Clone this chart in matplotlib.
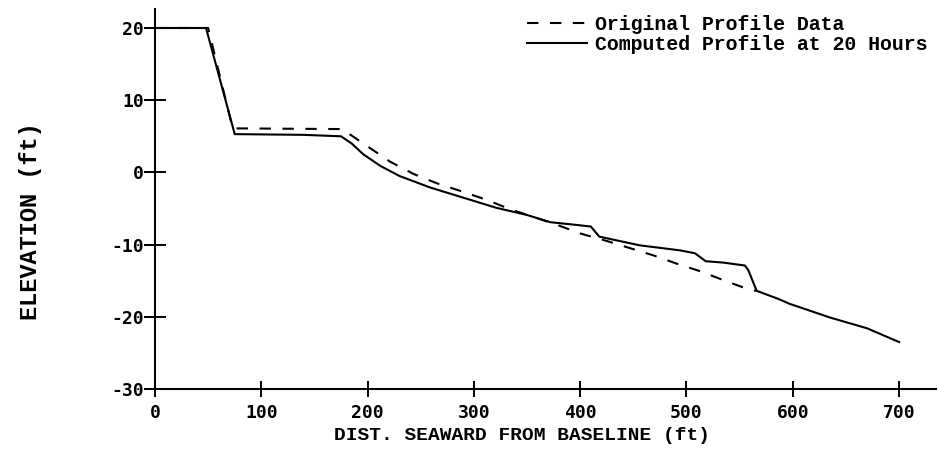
import matplotlib
matplotlib.use("Agg")
import matplotlib.pyplot as plt

# Data (ft)
computed_x = [0, 48, 75, 140, 175, 185, 196, 212, 230, 259, 290, 321, 350, 372,
              398, 410, 418, 456, 494, 508, 518, 535, 555, 558, 566, 586, 597,
              635, 670, 700]
computed_y = [20, 20, 5.3, 5.2, 5.0, 4.0, 2.5, 0.9, -0.5, -2.1, -3.5, -4.9, -5.9,
              -6.9, -7.3, -7.5, -8.9, -10.1, -10.8, -11.2, -12.3, -12.5, -12.9,
              -13.5, -16.4, -17.5, -18.2, -20.1, -21.6, -23.5]

original_x = [0, 50, 73, 176, 199, 221, 243, 265, 288, 312, 334, 375, 401, 425,
              447, 469, 492, 511, 538, 560, 566]
original_y = [20, 20, 6.1, 6.0, 3.7, 1.5, -0.2, -1.5, -2.6, -3.8, -5.1, -7.1,
              -8.5, -9.5, -10.5, -11.5, -12.7, -13.6, -15.1, -16.3, -16.4]

x_ticks = [0, 100, 200, 300, 400, 500, 600, 700]
y_ticks = [20, 10, 0, -10, -20, -30]

label_original = "Original Profile Data"
label_computed = "Computed Profile at 20 Hours"
x_label = "DIST. SEAWARD FROM BASELINE (ft)"
y_label = "ELEVATION (ft)"

fig = plt.figure(figsize=(9.38, 4.53), dpi=100)
ax = fig.add_axes([155 / 938, 1 - 389 / 453, 781.3 / 938, 380.5 / 453])

ax.plot(original_x, original_y, color="black", lw=1.5, linestyle=(0, (5.5, 5.5)),
        label=label_original)
ax.plot(computed_x, computed_y, color="black", lw=1.5, label=label_computed)

ax.set_xlim(0, 735)
ax.set_ylim(-30, 22.7)
ax.spines["top"].set_visible(False)
ax.spines["right"].set_visible(False)
for s in ("left", "bottom"):
    ax.spines[s].set_linewidth(1.5)

ax.set_xticks(x_ticks)
ax.set_yticks(y_ticks)
tick_font = dict(family="DejaVu Sans Mono", weight="bold", size=13)
ax.set_xticklabels([str(v) for v in x_ticks], fontdict=tick_font)
ax.set_yticklabels([str(v) for v in y_ticks], fontdict=tick_font)
ax.tick_params(axis="x", direction="inout", length=11, width=1.4, pad=5)
ax.tick_params(axis="y", direction="inout", length=16, width=1.4, pad=0)

ax.set_xlabel(x_label, family="Liberation Mono", weight="bold", fontsize=14)
ax.xaxis.label.set_va("center")
ax.xaxis.set_label_coords((521.5 - 155) / 781.3, (389 - 436) / 380.5)
ax.set_ylabel(y_label, family="Liberation Mono", weight="bold", fontsize=17)
ax.yaxis.label.set_va("center")
ax.yaxis.set_label_coords((30 - 155) / 781.3, (389 - 221) / 380.5)

leg = ax.legend(loc="upper left", bbox_to_anchor=(527 / 938, 1 - 15 / 453),
                bbox_transform=fig.transFigure, frameon=False, borderpad=0,
                borderaxespad=0, handlelength=3.0, handletextpad=0.4,
                labelspacing=0.05,
                prop=dict(family="Liberation Mono", weight="bold", size=14.3))

fig.savefig("out.png", dpi=100)
